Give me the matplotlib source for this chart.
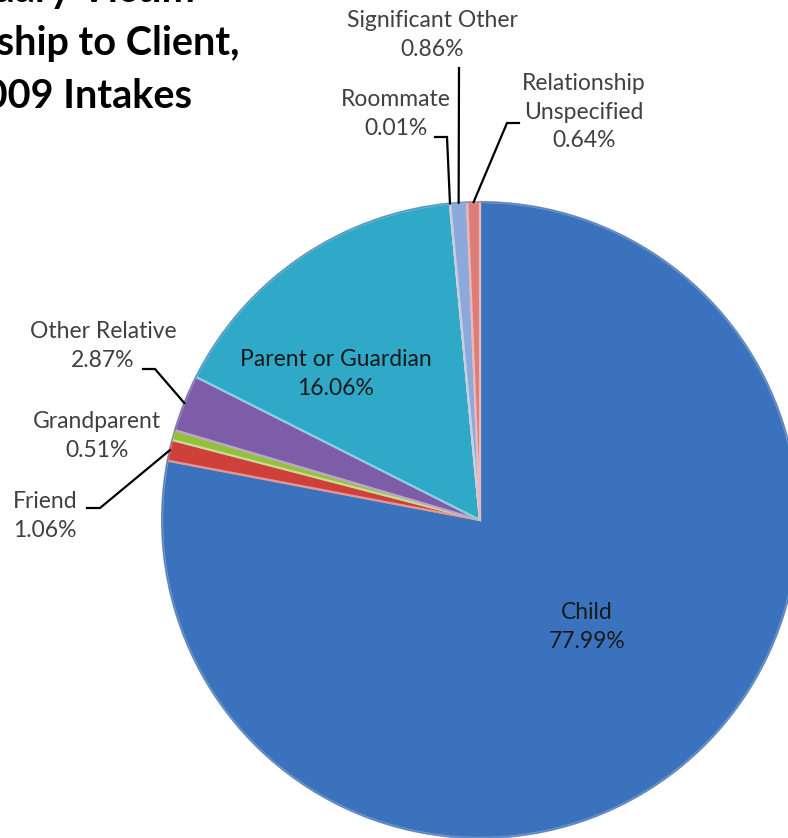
import numpy as np
import matplotlib
matplotlib.use("Agg")
import matplotlib.pyplot as plt
from matplotlib.colors import to_rgb

# data
labels = ["Child", "Friend", "Grandparent", "Other Relative", "Parent or Guardian",
          "Roommate", "Significant Other", "Relationship\nUnspecified"]
shares = [77.99, 1.06, 0.51, 2.87, 16.06, 0.01, 0.86, 0.64]
colors = ["#3B72BD", "#D0403B", "#96BF3C", "#7D5CA8", "#30A9C9",
          "#F39A3E", "#8DA9DB", "#DE7C78"]
title_lines = ["Secondary Victim", "Relationship to Client,", "FY 2009 Intakes"]

W, H = 788, 838

def fy(y):
    # pixel row (from top) -> data y
    return H - y

# layout (pixel coords from top-left): label centre, leader start, elbow
label_pos = {
    "Child": (587, 627),
    "Friend": (45, 516),
    "Grandparent": (97, 436),
    "Other Relative": (103, 346),
    "Parent or Guardian": (336, 374),
    "Roommate": (396, 114),
    "Significant Other": (432, 35),
    "Relationship\nUnspecified": (584, 112),
}
leaders = {
    "Friend": [(87, 508), (100, 508)],
    "Other Relative": [(143, 369), (155, 369)],
    "Roommate": [(435, 137), (447, 137)],
    "Significant Other": [(459, 68)],
    "Relationship\nUnspecified": [(519, 123), (507, 123)],
}
inside = ["Child", "Parent or Guardian"]

cx, cy, rad = 480, 520, 318

def lighten(c, f):
    r, g, b = to_rgb(c)
    return (r + (1 - r) * f, g + (1 - g) * f, b + (1 - b) * f)

plt.rcParams['font.family'] = ['Lato', 'DejaVu Sans']

fig = plt.figure(figsize=(W / 100, H / 100), dpi=100)
ax = fig.add_axes([0, 0, 1, 1])

wedges, _ = ax.pie(shares, colors=colors, startangle=90, counterclock=False,
                   center=(cx, fy(cy)), radius=rad,
                   wedgeprops=dict(linewidth=1.6))
for w, c in zip(wedges, colors):
    w.set_edgecolor(lighten(c, 0.45))

# darker rim to hint at the bevel
ax.add_patch(plt.Circle((cx, fy(cy)), rad, fill=False, ec="#2a5590", lw=1.0, alpha=0.5))

for w, name, val in zip(wedges, labels, shares):
    tx, ty = label_pos[name]
    col = "#1a1a1a" if name in inside else "#404040"
    ax.text(tx, fy(ty), "%s\n%.2f%%" % (name, val), ha="center", va="center",
            multialignment="center", fontsize=16.5, color=col, linespacing=1.45)
    if name in leaders:
        ang = np.deg2rad((w.theta1 + w.theta2) / 2)
        ex = cx + rad * np.cos(ang)
        ey = fy(cy) + rad * np.sin(ang)
        pts = leaders[name]
        xs = [p[0] for p in pts] + [ex]
        ys = [fy(p[1]) for p in pts] + [ey]
        ax.plot(xs, ys, color="black", lw=1.6, solid_joinstyle="miter")

# title, left part runs off the canvas like the reference
title_right = [195, 240, 192]
title_base = [2, 55, 108]
for line, xr, yb in zip(title_lines, title_right, title_base):
    ax.text(xr, fy(yb), line, ha="right", va="baseline", fontsize=28.5,
            fontweight="bold", color="black")

ax.set_xlim(0, W)
ax.set_ylim(0, H)
ax.set_aspect("equal")
ax.axis("off")

fig.savefig("out.png", dpi=100)
